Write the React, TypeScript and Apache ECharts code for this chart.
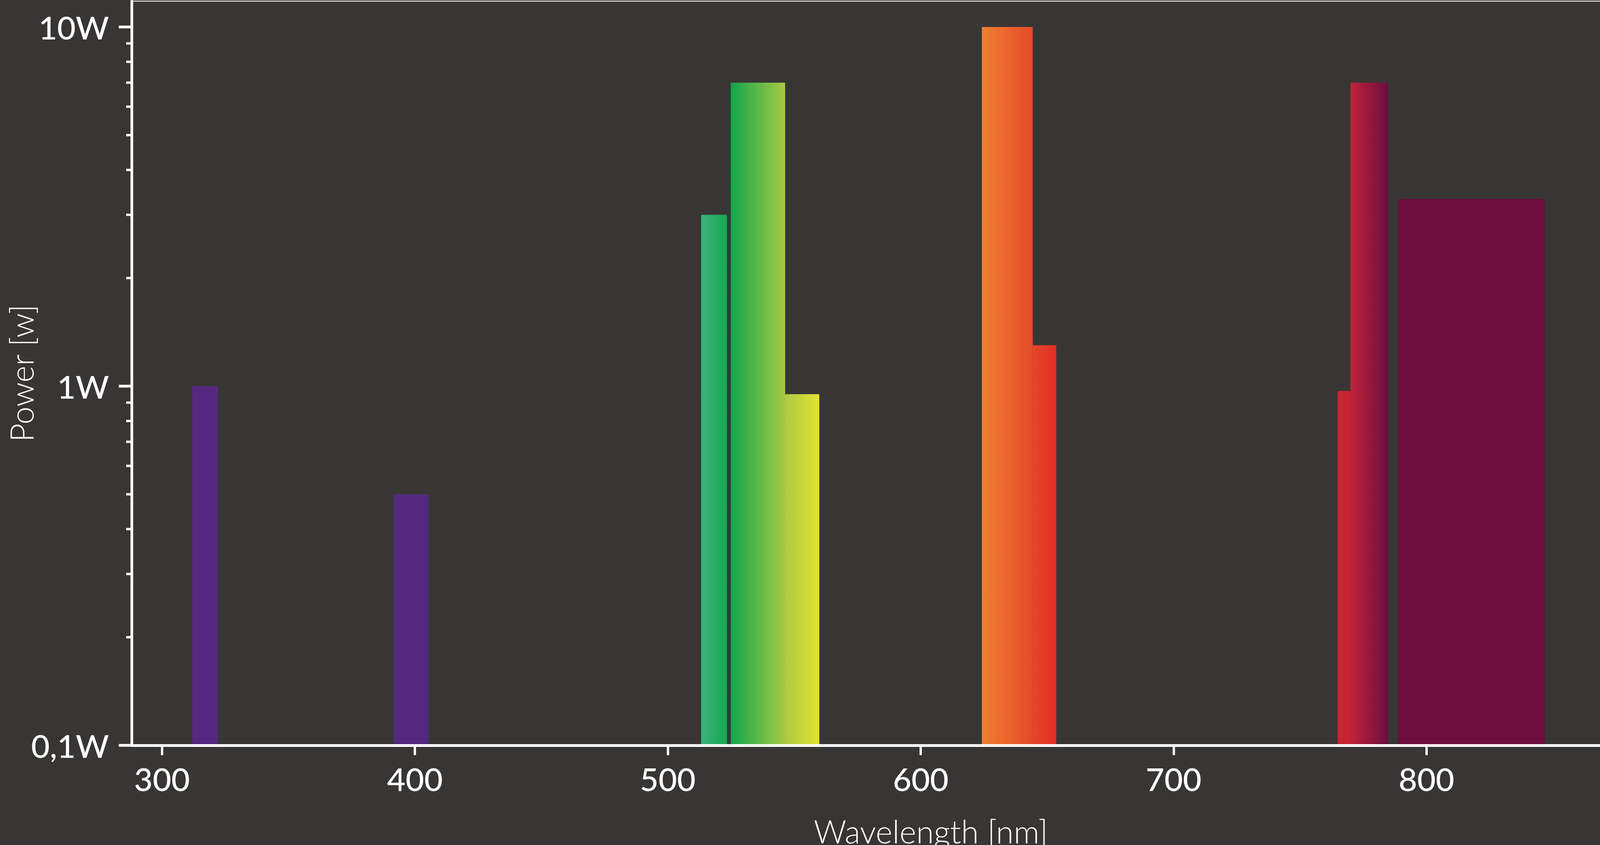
import React, { useEffect, useRef } from 'react';
import * as echarts from 'echarts';

// Wavelength bands (nm) and their power (W)
const BAND_START = [312.0, 391.6, 513.2, 524.9, 546.4, 624.2, 644.3, 764.9, 769.9, 788.7];
const BAND_END = [322.1, 405.5, 523.4, 546.4, 559.9, 644.3, 653.6, 769.9, 784.9, 846.8];
const POWER_W = [1.0, 0.5, 3.0, 7.0, 0.95, 10, 1.3, 0.97, 7.0, 3.32];

// Axis ticks / labels
const X_TICKS = [300, 400, 500, 600, 700, 800];
const Y_LABEL_VALUES = [0.1, 1, 10];
const Y_LABELS = ['0,1W', '1W', '10W'];
const Y_MINOR_TICKS = [0.2, 0.3, 0.4, 0.5, 0.6, 0.7, 0.8, 0.9, 2, 3, 4, 5, 6, 7, 8, 9];

// Styles (left -> right gradient colour of each band)
const BAR_FILLS: [string, string][] = [
  ['#55287f', '#55287f'],
  ['#55287f', '#55287f'],
  ['#3bb37b', '#17a550'],
  ['#12a64b', '#a8c945'],
  ['#adca43', '#e3e232'],
  ['#ef8031', '#e54a28'],
  ['#e54728', '#e32f27'],
  ['#d3232f', '#c52236'],
  ['#bf2239', '#6b0e3d'],
  ['#6d0e3e', '#6d0e3e'],
];

const X_MIN = 288;
const X_MAX = 891;
const Y_MIN = 0.1;
const Y_MAX = 11.8;

const BG = '#383634';
const FONT = 'Lato, "Open Sans", sans-serif';

export default function App() {
  const ref = useRef<HTMLDivElement>(null);

  useEffect(() => {
    document.body.style.margin = '0';
    document.body.style.overflow = 'hidden';
    document.body.style.background = BG;
    if (!ref.current) return;
    const chart = echarts.init(ref.current, undefined, { renderer: 'svg' });

    const barData = BAND_START.map((s, i) => [s, BAND_END[i], POWER_W[i], i]);

    const tickSeries = (values: number[], len: number, width: number) => ({
      type: 'custom',
      coordinateSystem: 'cartesian2d',
      clip: false,
      silent: true,
      z: 6,
      data: values.map((v) => [X_MIN, v]),
      encode: { x: 0, y: 1 },
      renderItem: (params: any, api: any) => {
        const p = api.coord([api.value(0), api.value(1)]);
        return {
          type: 'line',
          shape: { x1: p[0] - len, y1: p[1], x2: p[0], y2: p[1] },
          style: { stroke: '#ffffff', lineWidth: width },
        };
      },
    });

    const option: any = {
      animation: false,
      backgroundColor: BG,
      grid: {
        left: 337,
        right: 8,
        top: 3,
        bottom: 255,
        containLabel: false,
        outerBoundsMode: 'none',
        show: true,
        backgroundColor: 'transparent',
        borderColor: '#e4e4e4',
        borderWidth: 2.5,
      },
      xAxis: {
        type: 'value',
        min: X_MIN,
        max: X_MAX,
        z: 5,
        name: 'Wavelength [nm]',
        nameLocation: 'middle',
        nameGap: 178,
        nameMoveOverlap: false,
        nameTextStyle: {
          color: '#ffffff',
          fontFamily: FONT,
          fontWeight: 300,
          fontSize: 82,
          padding: [0, 0, 0, 188],
        },
        axisLine: { show: true, onZero: false, lineStyle: { color: '#ffffff', width: 7 } },
        axisTick: { show: true, length: 25, lineStyle: { color: '#ffffff', width: 6 }, customValues: X_TICKS },
        axisLabel: {
          color: '#ffffff',
          fontFamily: FONT,
          fontWeight: 500,
          fontSize: 82,
          margin: 44,
          customValues: X_TICKS,
        },
        splitLine: { show: false },
      },
      yAxis: {
        type: 'log',
        logBase: 10,
        min: Y_MIN,
        max: Y_MAX,
        z: 5,
        name: 'Power [w]',
        nameLocation: 'middle',
        nameGap: 242,
        nameMoveOverlap: false,
        nameTextStyle: {
          color: '#ffffff',
          fontFamily: FONT,
          fontWeight: 300,
          fontSize: 82,
        },
        axisLine: { show: true, onZero: false, lineStyle: { color: '#ffffff', width: 7 } },
        axisTick: { show: false },
        minorTick: { show: false },
        axisLabel: {
          color: '#ffffff',
          fontFamily: FONT,
          fontWeight: 500,
          fontSize: 82,
          margin: 58,
          showMaxLabel: false,
          formatter: (v: number) => {
            const l = Math.log10(v);
            const idx = Y_LABEL_VALUES.findIndex((t) => Math.abs(Math.log10(t) - l) < 1e-6);
            return idx >= 0 ? Y_LABELS[idx] : '';
          },
        },
        splitLine: { show: false },
      },
      series: [
        {
          type: 'custom',
          coordinateSystem: 'cartesian2d',
          z: 2,
          data: barData,
          encode: { x: [0, 1], y: 2 },
          renderItem: (params: any, api: any) => {
            const x0 = api.value(0);
            const x1 = api.value(1);
            const v = api.value(2);
            const idx = api.value(3);
            const pTop = api.coord([x0, v]);
            const pBot = api.coord([x1, Y_MIN]);
            const fill = BAR_FILLS[idx];
            return {
              type: 'rect',
              shape: { x: pTop[0], y: pTop[1], width: pBot[0] - pTop[0], height: pBot[1] - pTop[1] },
              style: {
                fill: new echarts.graphic.LinearGradient(0, 0, 1, 0, [
                  { offset: 0, color: fill[0] },
                  { offset: 1, color: fill[1] },
                ]),
              },
            };
          },
        },
        tickSeries(Y_LABEL_VALUES, 33, 7),
        tickSeries(Y_MINOR_TICKS, 14, 6),
      ],
    };

    chart.setOption(option);
    return () => chart.dispose();
  }, []);

  return (
    <div
      ref={ref}
      style={{ position: 'absolute', left: 0, top: 0, width: 4249, height: 2162 }}
    />
  );
}
